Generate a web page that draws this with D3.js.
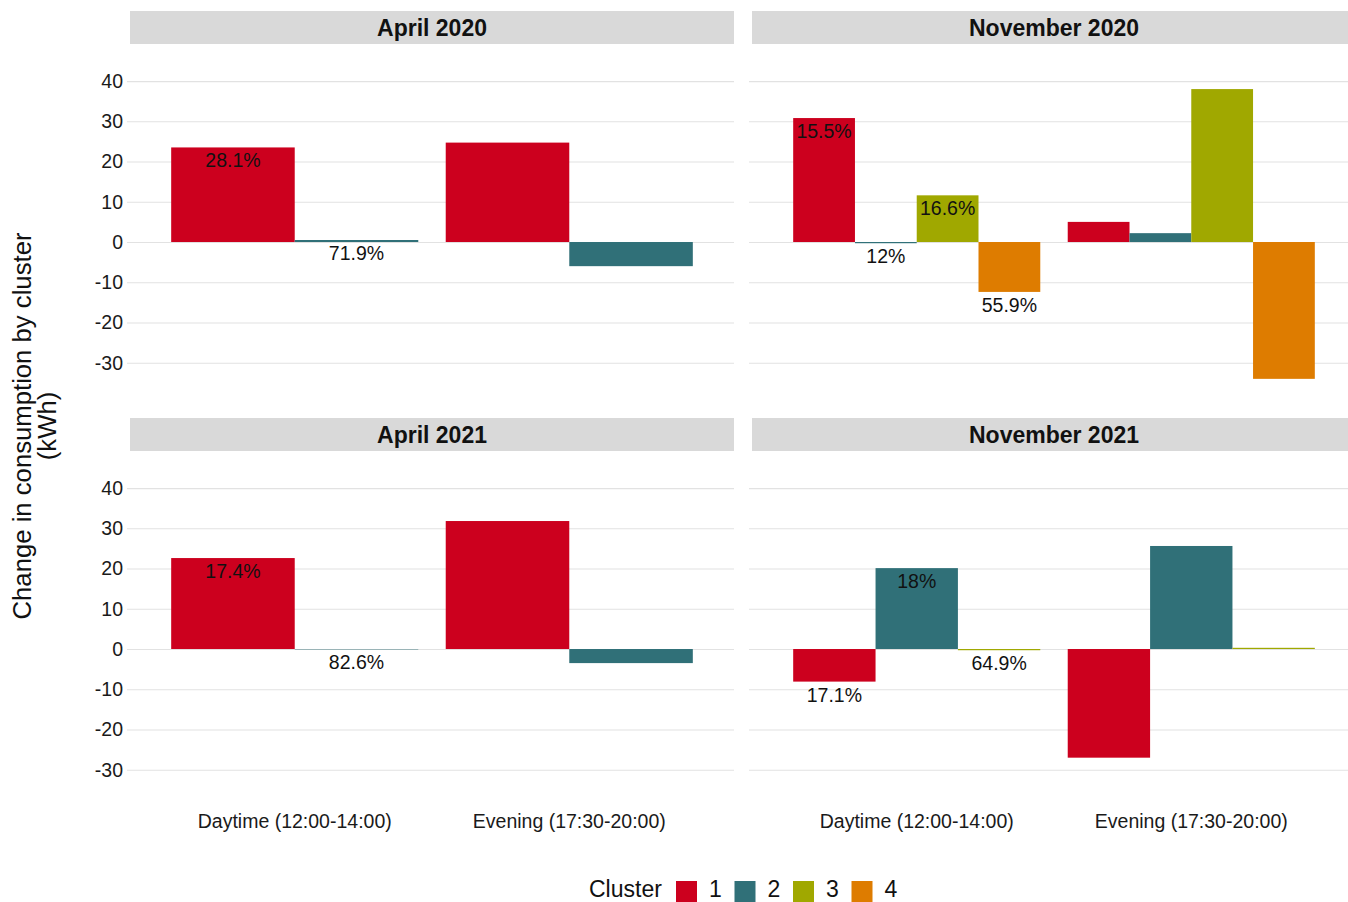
<!DOCTYPE html>
<html>
<head>
<meta charset="utf-8">
<script src="https://cdn.jsdelivr.net/npm/d3@7"></script>
<style>
  html, body { margin: 0; padding: 0; background: #fff; }
  svg { display: block; font-family: "Liberation Sans", Arial, sans-serif; }
</style>
</head>
<body>
<svg id="chart" width="1348" height="902"></svg>
<script>
// Facets, periods and clusters
const panelTitles = ["April 2020", "November 2020", "April 2021", "November 2021"];
const periods = ["Daytime (12:00-14:00)", "Evening (17:30-20:00)"];
const clusterNames = ["1", "2", "3", "4"];
const clusterColors = ["#CC001E", "#307078", "#A0A800", "#DE7C00"];

// Clusters present in each facet
const panelClusters = [["1", "2"], ["1", "2", "3", "4"], ["1", "2"], ["1", "2", "3"]];

// Change in consumption (kWh) per facet, per cluster
const daytimeChange = [[23.5, 0.5], [30.8, -0.3, 11.6, -12.4], [22.6, -0.1], [-8.1, 20.1, -0.3]];
const eveningChange = [[24.7, -6.0], [5.0, 2.2, 38.0, -34.0], [31.8, -3.5], [-27.0, 25.6, 0.3]];

// Share of households in each cluster (daytime labels)
const clusterShare = [["28.1%", "71.9%"], ["15.5%", "12%", "16.6%", "55.9%"], ["17.4%", "82.6%"], ["17.1%", "18%", "64.9%"]];

const yTicks = [-30, -20, -10, 0, 10, 20, 30, 40];

const svg = d3.select("#chart");

const panelW = 604, panelH = 359, stripH = 33;
const panelLefts = [130, 752];
const panelTops = [44, 451];

const y = d3.scaleLinear().domain([-40, 49.2]).range([panelH, 0]);
const x = d3.scaleBand().domain(periods).range([0, panelW]).paddingInner(0.1).paddingOuter(0.15);

panelTitles.forEach((title, i) => {
  const col = i % 2, row = Math.floor(i / 2);
  const px = panelLefts[col], py = panelTops[row];

  // strip
  svg.append("rect")
    .attr("x", px).attr("y", py - stripH)
    .attr("width", panelW).attr("height", stripH)
    .attr("fill", "#D9D9D9");
  svg.append("text")
    .attr("x", px + panelW / 2).attr("y", py - stripH / 2 + 8)
    .attr("text-anchor", "middle")
    .attr("font-size", 23).attr("font-weight", "bold").attr("fill", "#111")
    .text(title);

  const g = svg.append("g").attr("transform", `translate(${px},${py})`);

  // horizontal gridlines
  const grid = g.append("g")
    .call(d3.axisLeft(y).tickValues(yTicks).tickSize(-(panelW + 3)).tickFormat(""))
    .attr("transform", "translate(-3,0)");
  grid.select(".domain").remove();
  grid.selectAll("line").attr("stroke", "#E2E2E2").attr("stroke-width", 1.2);

  // y tick labels on the left column
  if (col === 0) {
    const ya = g.append("g")
      .call(d3.axisLeft(y).tickValues(yTicks).tickSize(0).tickPadding(7).tickFormat(d => String(d)));
    ya.select(".domain").remove();
    ya.selectAll("text")
      .attr("font-size", 19.5).attr("fill", "#1a1a1a")
      .attr("font-family", "Liberation Sans, Arial, sans-serif");
  }

  // x labels on the bottom row
  if (row === 1) {
    const xa = g.append("g")
      .attr("transform", `translate(0,${panelH})`)
      .call(d3.axisBottom(x).tickSize(0).tickPadding(4));
    xa.select(".domain").remove();
    xa.selectAll("text")
      .attr("font-size", 19.5).attr("fill", "#1a1a1a")
      .attr("font-family", "Liberation Sans, Arial, sans-serif");
  }

  // dodged bars
  const clusters = panelClusters[i];
  const xc = d3.scaleBand().domain(clusters).range([0, x.bandwidth()]);
  const rows = [];
  periods.forEach((p, pi) => {
    const vals = pi === 0 ? daytimeChange[i] : eveningChange[i];
    clusters.forEach((c, ci) => {
      rows.push({ period: p, cluster: c, value: vals[ci], label: pi === 0 ? clusterShare[i][ci] : null });
    });
  });

  g.selectAll("rect.bar").data(rows).join("rect")
    .attr("class", "bar")
    .attr("x", d => x(d.period) + xc(d.cluster))
    .attr("width", xc.bandwidth())
    .attr("y", d => y(Math.max(0, d.value)))
    .attr("height", d => Math.abs(y(d.value) - y(0)))
    .attr("fill", d => clusterColors[clusterNames.indexOf(d.cluster)]);

  g.selectAll("text.lbl").data(rows.filter(d => d.label)).join("text")
    .attr("class", "lbl")
    .attr("x", d => x(d.period) + xc(d.cluster) + xc.bandwidth() / 2)
    .attr("y", d => y(d.value) + 20)
    .attr("text-anchor", "middle")
    .attr("font-size", 19.5).attr("fill", "#111")
    .text(d => d.label);
});

// y axis title
svg.append("text")
  .attr("transform", "translate(22,426) rotate(-90)")
  .attr("text-anchor", "middle")
  .attr("font-size", 25.7).attr("fill", "#111")
  .selectAll("tspan").data(["Change in consumption by cluster", "(kWh)"]).join("tspan")
  .attr("x", 0).attr("dy", (d, k) => k === 0 ? "0.35em" : 25)
  .text(d => d);

// legend
const legend = svg.append("g");
legend.append("text")
  .attr("x", 589).attr("y", 897)
  .attr("font-size", 23).attr("fill", "#111")
  .text("Cluster");
clusterNames.forEach((c, k) => {
  const lx = 676 + k * 58.5;
  legend.append("rect")
    .attr("x", lx).attr("y", 881).attr("width", 21).attr("height", 22)
    .attr("fill", clusterColors[k]);
  legend.append("text")
    .attr("x", lx + 33).attr("y", 897)
    .attr("font-size", 23).attr("fill", "#111")
    .text(c);
});
</script>
</body>
</html>
